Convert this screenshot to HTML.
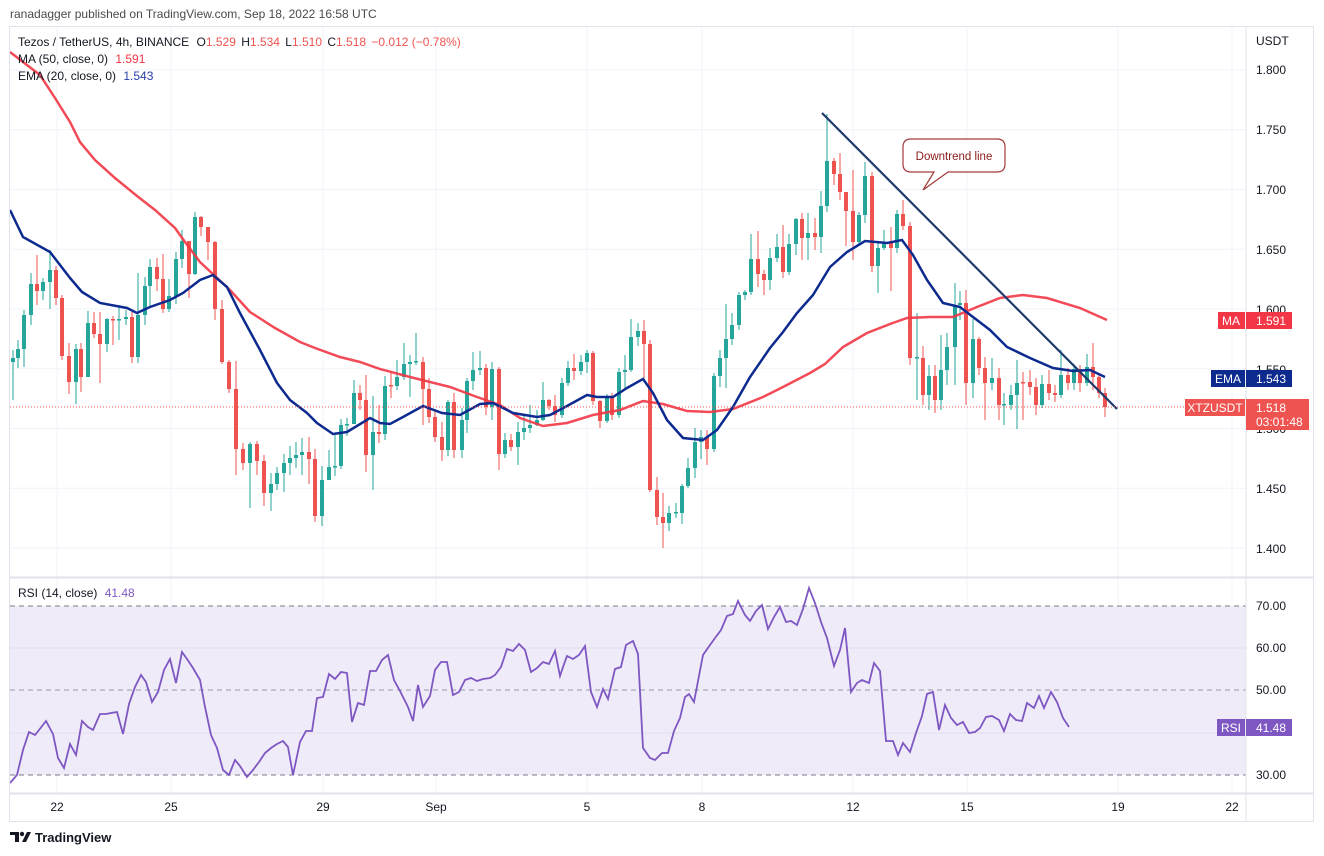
<!DOCTYPE html>
<html><head><meta charset="utf-8"><style>
html,body{margin:0;padding:0;background:#fff;}
svg{display:block;font-family:"Liberation Sans",sans-serif;}
</style></head><body>
<svg width="1324" height="856" viewBox="0 0 1324 856" xmlns="http://www.w3.org/2000/svg">
<rect width="1324" height="856" fill="#fff"/>
<text x="10" y="18" font-size="12" fill="#4a4a4a">ranadagger published on TradingView.com, Sep 18, 2022 16:58 UTC</text>
<g stroke="#f0f3fa">
<line x1="57" y1="27" x2="57" y2="793"/><line x1="171" y1="27" x2="171" y2="793"/><line x1="323" y1="27" x2="323" y2="793"/><line x1="436" y1="27" x2="436" y2="793"/><line x1="587" y1="27" x2="587" y2="793"/><line x1="702" y1="27" x2="702" y2="793"/><line x1="853" y1="27" x2="853" y2="793"/><line x1="967" y1="27" x2="967" y2="793"/><line x1="1118" y1="27" x2="1118" y2="793"/><line x1="1232" y1="27" x2="1232" y2="793"/>
<line x1="10" y1="70" x2="1246" y2="70"/><line x1="10" y1="129.75" x2="1246" y2="129.75"/><line x1="10" y1="189.5" x2="1246" y2="189.5"/><line x1="10" y1="249.25" x2="1246" y2="249.25"/><line x1="10" y1="309" x2="1246" y2="309"/><line x1="10" y1="368.75" x2="1246" y2="368.75"/><line x1="10" y1="428.5" x2="1246" y2="428.5"/><line x1="10" y1="488.25" x2="1246" y2="488.25"/><line x1="10" y1="548" x2="1246" y2="548"/>
</g>
<rect x="10" y="606" width="1236" height="169" fill="#efebf8"/>
<line x1="10" y1="648" x2="1246" y2="648" stroke="#e2def0"/><line x1="10" y1="733" x2="1246" y2="733" stroke="#e2def0"/>
<line x1="10" y1="606" x2="1246" y2="606" stroke="#787b86" stroke-dasharray="5,4"/>
<line x1="10" y1="690" x2="1246" y2="690" stroke="#9a9aa5" stroke-dasharray="5,4"/>
<line x1="10" y1="775" x2="1246" y2="775" stroke="#787b86" stroke-dasharray="5,4"/>

<!-- green wicks -->
<path fill="none" stroke="#26a69a" stroke-width="1" d="M13,350V400M18,340V368M24,310V367M31,273V325M43,278V300M50,250V309M76,344V404M88,311V375M107,318V352M119,305V340M126,310V325M138,273V363M145,277V325M150,259V307M169,279V312M176,252V304M182,230V268M195,212V275M250,442V508M271,473V511M277,467V490M284,454V492M290,446V475M296,442V468M302,438V475M322,466V526M329,450V478M335,435V476M341,419V469M347,418V436M354,380V424M373,396V490M385,376V440M397,360V390M404,343V380M410,355V397M416,333V365M448,400V456M462,408V458M467,378V433M473,352V390M480,351V375M492,362V420M505,433V458M518,422V465M524,415V440M530,405V433M537,410V426M543,382V421M562,378V418M568,361V386M581,355V375M587,350V373M607,394V423M619,368V418M625,355V390M631,319V372M638,323V346M669,506V531M676,503V518M682,484V524M688,458V488M695,428V478M701,430V459M714,373V452M720,350V387M726,304V388M732,313V345M739,292V330M745,290V300M751,234V295M770,248V290M777,234V262M789,234V275M796,218V255M808,213V260M821,191V253M827,114V212M859,212V246M865,162V223M878,242V293M884,230V250M897,210V253M917,313V400M929,365V410M941,335V410M947,333V385M955,283V385M960,291V320M973,319V398M992,358V390M1004,393V425M1011,385V410M1017,360V429M1042,375V408M1061,350V398M1074,364V390M1087,354V386"/>
<!-- green bodies -->
<path fill="#26a69a" d="M11,358h4V362h-4ZM16,349h4V358h-4ZM22,315h4V349h-4ZM29,284h4V315h-4ZM41,282h4V291h-4ZM48,270h4V282h-4ZM74,349h4V382h-4ZM86,323h4V377h-4ZM105,319h4V344h-4ZM117,319h4V320.5h-4ZM124,317h4V319h-4ZM136,315h4V357h-4ZM143,286h4V315h-4ZM148,267h4V286h-4ZM167,296h4V309h-4ZM174,259h4V296h-4ZM180,241h4V259h-4ZM193,217h4V274h-4ZM248,444h4V463h-4ZM269,484h4V493h-4ZM275,473h4V484h-4ZM282,463h4V473h-4ZM288,458h4V463h-4ZM294,455h4V458h-4ZM300,452h4V455h-4ZM320,480h4V516h-4ZM327,467h4V480h-4ZM333,466h4V467.5h-4ZM339,425h4V466h-4ZM345,424h4V425.5h-4ZM352,393h4V424h-4ZM371,432h4V455h-4ZM383,386h4V434h-4ZM395,377h4V386h-4ZM402,364h4V377h-4ZM408,362h4V364h-4ZM414,361h4V362.5h-4ZM446,402h4V450h-4ZM460,420h4V450h-4ZM465,381h4V420h-4ZM471,370h4V381h-4ZM478,368h4V370h-4ZM490,369h4V407h-4ZM503,440h4V454h-4ZM516,432h4V447h-4ZM522,428h4V432h-4ZM528,425h4V428h-4ZM535,420h4V425h-4ZM541,400h4V420h-4ZM560,383h4V415h-4ZM566,368h4V383h-4ZM579,362h4V371h-4ZM585,353h4V362h-4ZM605,398h4V421h-4ZM617,372h4V415h-4ZM623,370h4V372h-4ZM629,337h4V370h-4ZM636,331h4V337h-4ZM667,513h4V523h-4ZM674,512h4V513.5h-4ZM680,486h4V513h-4ZM686,468h4V486h-4ZM693,442h4V468h-4ZM699,437h4V442h-4ZM712,376h4V449h-4ZM718,358h4V376h-4ZM724,339h4V358h-4ZM730,325h4V339h-4ZM737,295h4V325h-4ZM743,292h4V295h-4ZM749,259h4V292h-4ZM768,258h4V280h-4ZM775,247h4V258h-4ZM787,244h4V272h-4ZM794,219h4V244h-4ZM806,233h4V238h-4ZM819,206h4V237h-4ZM825,161h4V206h-4ZM857,215h4V242h-4ZM863,176h4V215h-4ZM876,248h4V266h-4ZM882,243h4V248h-4ZM895,214h4V248h-4ZM915,357h4V358.5h-4ZM927,376h4V395h-4ZM939,370h4V400h-4ZM945,347h4V370h-4ZM953,305h4V347h-4ZM958,303h4V305h-4ZM971,339h4V383h-4ZM990,378h4V383h-4ZM1002,404h4V405.5h-4ZM1009,395h4V405h-4ZM1015,383h4V395h-4ZM1040,384h4V405h-4ZM1059,375h4V395h-4ZM1072,369h4V383h-4ZM1085,367h4V383h-4Z"/>
<!-- red wicks -->
<path fill="none" stroke="#ef5350" stroke-width="1" d="M37,255V305M56,266V305M62,295V360M69,343V394M81,343V392M94,312V338M100,312V383M113,316V345M132,312V363M157,258V291M163,254V313M189,241V298M201,216V236M208,229V260M215,241V320M222,300V364M229,360V393M236,361V475M243,443V470M257,441V475M264,455V506M309,437V484M315,449V522M360,385V410M366,375V472M379,405V443M391,372V398M423,357V425M429,378V423M435,410V442M442,422V461M454,393V458M486,364V415M499,367V470M511,434V451M549,399V410M555,395V422M574,354V380M593,351V405M600,400V428M612,393V420M644,320V378M650,340V492M657,477V525M663,493V548M707,430V465M758,231V287M764,270V295M783,225V278M802,213V260M815,218V250M834,158V185M840,153V200M846,192V246M853,170V260M872,172V272M891,227V291M903,200V230M910,222V365M923,346V405M935,365V413M966,290V405M979,337V375M985,357V420M999,368V420M1023,372V420M1030,370V395M1036,378V415M1049,370V400M1055,385V402M1068,368V390M1080,365V392M1093,343V390M1099,375V398M1105,388V417"/>
<!-- red bodies -->
<path fill="#ef5350" d="M35,284h4V291h-4ZM54,270h4V298h-4ZM60,298h4V356h-4ZM67,356h4V382h-4ZM79,349h4V377h-4ZM92,323h4V334h-4ZM98,334h4V344h-4ZM111,319h4V320.5h-4ZM130,317h4V357h-4ZM155,267h4V279h-4ZM161,279h4V309h-4ZM187,241h4V274h-4ZM199,217h4V227h-4ZM206,227h4V242h-4ZM213,242h4V309h-4ZM220,309h4V362h-4ZM227,362h4V389h-4ZM234,389h4V449h-4ZM241,449h4V463h-4ZM255,444h4V461h-4ZM262,461h4V493h-4ZM307,452h4V459h-4ZM313,459h4V516h-4ZM358,393h4V400h-4ZM364,400h4V455h-4ZM377,432h4V434h-4ZM389,385h4V386.5h-4ZM421,362h4V389h-4ZM427,389h4V417h-4ZM433,417h4V437h-4ZM440,437h4V450h-4ZM452,402h4V450h-4ZM484,368h4V407h-4ZM497,369h4V454h-4ZM509,440h4V447h-4ZM547,400h4V406h-4ZM553,406h4V415h-4ZM572,368h4V371h-4ZM591,353h4V401h-4ZM598,401h4V421h-4ZM610,398h4V415h-4ZM642,331h4V344h-4ZM648,344h4V490h-4ZM655,490h4V517h-4ZM661,517h4V523h-4ZM705,437h4V449h-4ZM756,259h4V274h-4ZM762,274h4V280h-4ZM781,247h4V272h-4ZM800,219h4V238h-4ZM813,233h4V237h-4ZM832,161h4V174h-4ZM838,174h4V192h-4ZM844,192h4V211h-4ZM851,211h4V242h-4ZM870,176h4V266h-4ZM889,243h4V248h-4ZM901,214h4V226h-4ZM908,226h4V358h-4ZM921,358h4V395h-4ZM933,376h4V400h-4ZM964,303h4V383h-4ZM977,339h4V368h-4ZM983,368h4V383h-4ZM997,378h4V405h-4ZM1021,382h4V383.5h-4ZM1028,382h4V387h-4ZM1034,387h4V405h-4ZM1047,384h4V393h-4ZM1053,393h4V395h-4ZM1066,375h4V383h-4ZM1078,369h4V383h-4ZM1091,367h4V377h-4ZM1097,377h4V393h-4ZM1103,393h4V407h-4Z"/>

<polyline fill="none" stroke="#f23645" stroke-opacity="0.9" stroke-width="2.5" points="10,52 40,75 55,98 70,122 80,142 95,160 115,178 137,196 155,210 175,228 185,242 200,262 215,276 230,290 250,312 275,328 300,342 315,348 340,357 360,362 380,369 410,377 450,387 477,397 500,405 520,418 543,426 567,423 593,415 620,410 643,401 663,404 687,411 710,412 733,409 763,397 783,387 810,373 825,364 843,347 867,333 890,324 907,318 930,317 953,317 977,307 1000,298 1023,295 1047,298 1080,308 1107,320"/>
<polyline fill="none" stroke="#0d2a8f" stroke-width="2.5" points="10,210 23,237 50,252 70,278 82,292 100,303 127,308 137,313 150,307 170,300 183,293 200,280 213,275 227,287 240,313 260,350 277,383 290,400 307,413 317,423 333,434 347,432 370,418 380,423 390,424 403,417 423,406 442,413 460,415 480,404 493,403 513,413 537,417 550,415 567,406 587,395 597,397 613,397 627,388 643,379 653,393 667,420 683,438 703,440 717,430 733,407 750,377 770,348 783,332 797,313 813,295 830,267 847,252 865,241 887,243 902,240 913,255 927,280 943,303 960,307 973,317 990,330 1007,347 1030,358 1053,368 1073,371 1090,370 1105,377"/>
<line x1="822" y1="113" x2="1117" y2="409" stroke="#1e3a6e" stroke-width="2.2"/>
<line x1="10" y1="407" x2="1185" y2="407" stroke="#ef5350" stroke-dasharray="1,2"/>
<polyline fill="none" stroke="#7e57c2" stroke-width="1.8" points="10,783 17,775 23,750 29,732 35,735 39,730 46,721 53,734 58,758 64,768 70,744 76,755 82,721 88,727 93,730 100,714 106,714 111,713 117,712 123,734 129,704 135,687 141,675 146,682 152,702 158,692 164,670 170,659 176,683 182,652 187,659 193,668 200,680 205,707 211,735 217,748 223,770 229,775 235,760 240,766 247,777 253,770 259,762 265,753 271,748 277,744 283,741 288,747 293,775 300,742 306,731 312,731 317,698 323,697 329,674 335,679 341,672 347,673 352,722 358,703 364,705 370,671 376,671 382,660 388,655 394,680 400,691 408,707 413,721 418,685 423,707 430,696 435,670 441,662 447,662 453,695 459,692 465,680 471,678 477,681 483,679 490,678 495,675 501,667 507,649 513,651 519,644 525,650 531,672 537,668 543,662 549,664 555,651 560,676 563,667 567,656 573,659 579,655 585,646 591,692 597,707 603,689 608,699 615,669 621,667 626,645 633,641 638,654 643,748 650,758 655,760 662,753 668,753 674,731 680,718 685,697 689,694 694,702 703,655 710,645 715,638 721,630 727,616 733,614 738,601 745,615 750,621 756,611 762,605 768,629 774,617 780,607 786,622 791,621 797,625 803,609 809,588 815,603 821,622 827,638 834,666 840,650 845,628 851,692 857,683 862,680 869,683 874,663 880,671 886,741 893,741 898,755 903,743 910,752 916,733 922,716 927,694 933,692 939,730 945,705 951,718 957,725 963,722 969,733 975,732 980,728 986,717 992,716 999,720 1004,731 1010,714 1016,720 1022,721 1027,703 1034,708 1039,696 1044,708 1051,692 1057,702 1063,718 1069,727"/>

<path d="M911,139 H997 Q1005,139 1005,147 V164 Q1005,172 997,172 H948 L923,190 L934,172 H911 Q903,172 903,164 V147 Q903,139 911,139 Z" fill="#fff" stroke="#a33b3b" stroke-width="1.2"/>
<text x="954" y="160" font-size="11.5" fill="#8b1a1a" text-anchor="middle">Downtrend line</text>

<rect x="9.5" y="26.5" width="1304" height="795" fill="none" stroke="#e0e3eb"/>
<line x1="1246" y1="26" x2="1246" y2="822" stroke="#e0e3eb"/>
<line x1="10" y1="577.5" x2="1313" y2="577.5" stroke="#e0e3eb" stroke-width="2"/>
<line x1="10" y1="793.5" x2="1313" y2="793.5" stroke="#e0e3eb" stroke-width="2"/>

<text x="18" y="46" font-size="12" fill="#131722">Tezos / TetherUS, 4h, BINANCE  <tspan dx="4">O</tspan><tspan fill="#ef5350">1.529</tspan> <tspan dx="2">H</tspan><tspan fill="#ef5350">1.534</tspan> <tspan dx="2">L</tspan><tspan fill="#ef5350">1.510</tspan> <tspan dx="2">C</tspan><tspan fill="#ef5350">1.518</tspan> <tspan dx="2" fill="#ef5350">−0.012 (−0.78%)</tspan></text>
<text x="18" y="63" font-size="12" fill="#131722">MA (50, close, 0) <tspan dx="4" fill="#f23645">1.591</tspan></text>
<text x="18" y="80" font-size="12" fill="#131722">EMA (20, close, 0) <tspan dx="4" fill="#2840a8">1.543</tspan></text>
<text x="18" y="597" font-size="12" fill="#131722">RSI (14, close) <tspan dx="4" fill="#7e57c2">41.48</tspan></text>

<g font-size="12" fill="#131722">
<text x="1256" y="45">USDT</text>
<text x="1256" y="74">1.800</text><text x="1256" y="134">1.750</text><text x="1256" y="194">1.700</text>
<text x="1256" y="254">1.650</text><text x="1256" y="314">1.600</text><text x="1256" y="374">1.550</text>
<text x="1256" y="433">1.500</text><text x="1256" y="493">1.450</text><text x="1256" y="553">1.400</text>
<text x="1256" y="610">70.00</text><text x="1256" y="652">60.00</text><text x="1256" y="694">50.00</text><text x="1256" y="779">30.00</text>
</g>
<rect x="1218" y="312" width="27" height="17" fill="#f23645"/><rect x="1246" y="312" width="46" height="17" fill="#f23645"/>
<text x="1231" y="325" font-size="12" fill="#fff" text-anchor="middle">MA</text><text x="1256" y="325" font-size="12" fill="#fff">1.591</text>
<rect x="1211" y="370" width="34" height="17" fill="#0d2a8f"/><rect x="1246" y="370" width="46" height="17" fill="#0d2a8f"/>
<text x="1228" y="383" font-size="12" fill="#fff" text-anchor="middle">EMA</text><text x="1256" y="383" font-size="12" fill="#fff">1.543</text>
<rect x="1185" y="399" width="60" height="17" fill="#ef5350"/><rect x="1246" y="399" width="63" height="31" fill="#ef5350"/>
<text x="1215" y="412" font-size="12" fill="#fff" text-anchor="middle">XTZUSDT</text><text x="1256" y="412" font-size="12" fill="#fff">1.518</text>
<text x="1256" y="426" font-size="12" fill="#fff">03:01:48</text>
<rect x="1217" y="719" width="28" height="17" fill="#7e57c2"/><rect x="1246" y="719" width="46" height="17" fill="#7e57c2"/>
<text x="1231" y="732" font-size="12" fill="#fff" text-anchor="middle">RSI</text><text x="1256" y="732" font-size="12" fill="#fff">41.48</text>

<g font-size="12" fill="#131722" text-anchor="middle">
<text x="57" y="811">22</text><text x="171" y="811">25</text><text x="323" y="811">29</text><text x="436" y="811">Sep</text>
<text x="587" y="811">5</text><text x="702" y="811">8</text><text x="853" y="811">12</text><text x="967" y="811">15</text>
<text x="1118" y="811">19</text><text x="1232" y="811">22</text>
</g>
<g transform="translate(10,830)">
<path d="M0,2 H9 V12 H5 V5 H0 Z" fill="#131722"/><circle cx="12" cy="4" r="2.2" fill="#131722"/><path d="M12,12 L17,2 H21 L16,12 Z" fill="#131722"/>
<text x="25" y="12" font-size="13" font-weight="bold" fill="#131722">TradingView</text>
</g>
</svg>
</body></html>
